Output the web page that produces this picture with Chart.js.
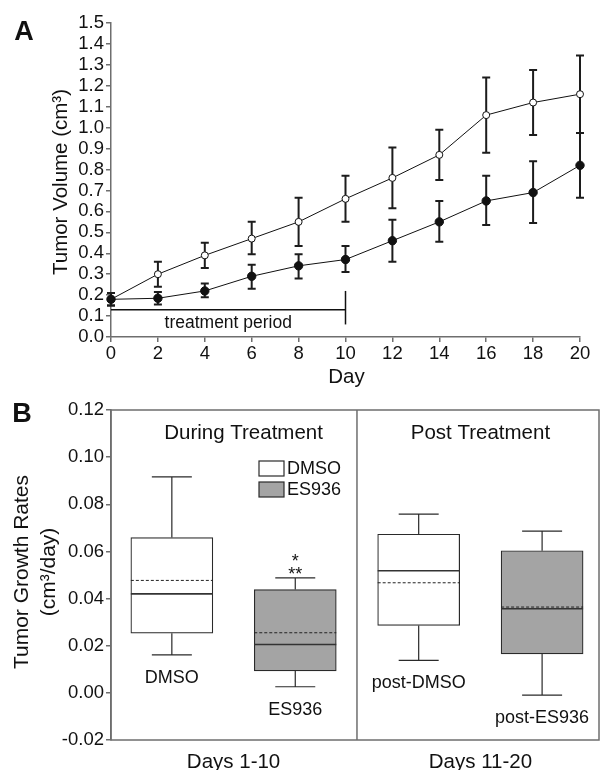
<!DOCTYPE html>
<html>
<head>
<meta charset="utf-8">
<script src="https://cdn.jsdelivr.net/npm/chart.js@4.4.1/dist/chart.umd.min.js"></script>
<style>
  body { margin:0; background:#fff; width:600px; height:770px; position:relative; overflow:hidden; }
  canvas { position:absolute; left:0; }
  #vol-canvas { top:0; }
  #rate-canvas { top:385px; }
</style>
</head>
<body>
<canvas id="vol-canvas" width="600" height="400"></canvas>
<canvas id="rate-canvas" width="600" height="385"></canvas>
<script>
// panel A: tumour volume over time
const days = [0, 2, 4, 6, 8, 10, 12, 14, 16, 18, 20];
const dmsoVol = [0.18, 0.30, 0.39, 0.47, 0.55, 0.66, 0.76, 0.87, 1.06, 1.12, 1.16];
const dmsoLo  = [0.15, 0.24, 0.33, 0.395, 0.435, 0.55, 0.615, 0.75, 0.88, 0.965, 0.975];
const dmsoHi  = [0.21, 0.36, 0.45, 0.55, 0.665, 0.77, 0.905, 0.99, 1.24, 1.275, 1.345];
const esVol = [0.18, 0.185, 0.22, 0.29, 0.34, 0.37, 0.46, 0.55, 0.65, 0.69, 0.82];
const esLo  = [0.15, 0.155, 0.19, 0.23, 0.28, 0.31, 0.36, 0.455, 0.535, 0.545, 0.665];
const esHi  = [0.21, 0.215, 0.255, 0.345, 0.395, 0.435, 0.56, 0.65, 0.77, 0.84, 0.975];
const treatDays = [0, 10];
const treatLevel = 0.13;
const treatTick = [0.06, 0.22];
const dayTicks = [0, 2, 4, 6, 8, 10, 12, 14, 16, 18, 20];
const dayTickLabels = ['0','2','4','6','8','10','12','14','16','18','20'];
const volTicks = [0, 0.1, 0.2, 0.3, 0.4, 0.5, 0.6, 0.7, 0.8, 0.9, 1.0, 1.1, 1.2, 1.3, 1.4, 1.5];
const volTickLabels = ['0.0','0.1','0.2','0.3','0.4','0.5','0.6','0.7','0.8','0.9','1.0','1.1','1.2','1.3','1.4','1.5'];

// panel B: growth-rate box plots
const boxNames = ['DMSO', 'ES936', 'post-DMSO', 'post-ES936'];
const whiskLo = [0.0161, 0.0026, 0.0138, -0.0010];
const q1      = [0.0253, 0.0093, 0.0286, 0.0165];
const median  = [0.0420, 0.0205, 0.0518, 0.0357];
const mean    = [0.0477, 0.0255, 0.0467, 0.0364];
const q3      = [0.0659, 0.0438, 0.0673, 0.0603];
const whiskHi = [0.0916, 0.0488, 0.0758, 0.0686];
const boxFill = ['#ffffff', '#a4a4a4', '#ffffff', '#a4a4a4'];
const periods = ['During Treatment', 'Post Treatment'];
const dayRanges = ['Days 1-10', 'Days 11-20'];
const legendNames = ['DMSO', 'ES936'];
const rateTicks = [-0.02, 0, 0.02, 0.04, 0.06, 0.08, 0.10, 0.12];
const rateTickLabels = ['-0.02','0.00','0.02','0.04','0.06','0.08','0.10','0.12'];

const FONT = "'Liberation Sans', Arial, sans-serif";
const AXIS = '#6e6e6e', INK = '#111';
const TICK_SIZE = 18.5;
Chart.defaults.font.family = FONT;
Chart.defaults.color = INK;

const pts = (xs, ys) => xs.map((x, i) => ({x, y: ys[i]}));

const volExtras = {
  id: 'volExtras',
  beforeDatasetsDraw(chart) {
    const {ctx, scales:{x, y}} = chart;
    ctx.save(); ctx.strokeStyle = '#1c1c1c'; ctx.lineWidth = 2;
    [[dmsoLo, dmsoHi], [esLo, esHi]].forEach(([lo, hi]) => {
      days.forEach((d, i) => {
        const px = x.getPixelForValue(d), yl = y.getPixelForValue(lo[i]), yh = y.getPixelForValue(hi[i]);
        ctx.beginPath();
        ctx.moveTo(px, yl); ctx.lineTo(px, yh);
        ctx.moveTo(px-4, yl); ctx.lineTo(px+4, yl);
        ctx.moveTo(px-4, yh); ctx.lineTo(px+4, yh);
        ctx.stroke();
      });
    });
    ctx.restore();
  },
  afterDraw(chart) {
    const {ctx, scales:{x, y}, chartArea:ca} = chart;
    ctx.save(); ctx.fillStyle = INK; ctx.textAlign = 'center'; ctx.textBaseline = 'middle';
    ctx.font = '17.5px ' + FONT;
    ctx.fillText('treatment period', x.getPixelForValue(5), y.getPixelForValue(0.065));
    ctx.font = '20.5px ' + FONT;
    ctx.fillText('Day', (ca.left+ca.right)/2 + 1, 377);
    ctx.save(); ctx.translate(61, 182); ctx.rotate(-Math.PI/2);
    ctx.fillText('Tumor Volume (cm³)', 0, 0); ctx.restore();
    ctx.font = 'bold 27px ' + FONT;
    ctx.fillText('A', 24, 33);
    ctx.restore();
  }
};

new Chart(document.getElementById('vol-canvas'), {
  type: 'line',
  data: { datasets: [
    { label:'ES936', data: pts(days, esVol), borderColor:INK, borderWidth:1, pointRadius:4.2,
      pointBackgroundColor:INK, pointBorderColor:INK, pointBorderWidth:1, order:0, clip:false },
    { label:'DMSO', data: pts(days, dmsoVol), borderColor:INK, borderWidth:1, pointRadius:3.5,
      pointBackgroundColor:'#fff', pointBorderColor:INK, pointBorderWidth:1, order:1, clip:false },
    { label:'treatment', data: treatDays.map(d => ({x:d, y:treatLevel})), borderColor:INK, borderWidth:1.5, pointRadius:0, order:2 },
    { label:'treatment end', data: treatTick.map(v => ({x:treatDays[1], y:v})), borderColor:INK, borderWidth:1.5, pointRadius:0, order:2 }
  ]},
  options: {
    responsive:false, animation:false,
    layout:{ padding:{ top:23, right:20, left:0, bottom:15 } },
    plugins:{ legend:{display:false}, tooltip:{enabled:false} },
    scales:{
      x:{ type:'linear', min:0, max:20,
        afterBuildTicks: s => { s.ticks = dayTicks.map(v => ({value:v})); },
        afterFit: s => { s.height = 48; },
        ticks:{ callback:(v, i) => dayTickLabels[i], font:{size:TICK_SIZE}, padding:1, maxRotation:0, autoSkip:false, color:INK },
        grid:{ drawOnChartArea:false, tickLength:5, color:AXIS, lineWidth:1.5 },
        border:{ color:AXIS, width:1.5 } },
      y:{ min:0, max:1.5,
        afterBuildTicks: s => { s.ticks = volTicks.map(v => ({value:v})); },
        afterFit: s => { s.width = 111; },
        ticks:{ callback:(v, i) => volTickLabels[i], font:{size:TICK_SIZE}, padding:2, autoSkip:false, color:INK },
        grid:{ drawOnChartArea:false, tickLength:5, color:AXIS, lineWidth:1.5 },
        border:{ color:AXIS, width:1.5 } }
    }
  },
  plugins:[volExtras]
});

const boxExtras = {
  id: 'boxExtras',
  afterDatasetsDraw(chart) {
    const {ctx, scales:{x, y}, chartArea:ca} = chart;
    ctx.save();
    // frame and divider
    ctx.strokeStyle = AXIS; ctx.lineWidth = 1.5;
    ctx.strokeRect(ca.left, ca.top, ca.right-ca.left, ca.bottom-ca.top);
    const mid = x.getPixelForValue(1.5);
    ctx.beginPath(); ctx.moveTo(mid, ca.top); ctx.lineTo(mid, ca.bottom); ctx.stroke();
    // whiskers, medians, means
    boxNames.forEach((n, i) => {
      const cx = x.getPixelForValue(i), hw = 41, cw = 20;
      const pLo = y.getPixelForValue(whiskLo[i]), pHi = y.getPixelForValue(whiskHi[i]);
      const p1 = y.getPixelForValue(q1[i]), p3 = y.getPixelForValue(q3[i]);
      ctx.strokeStyle = '#2a2a2a'; ctx.lineWidth = 1.2; ctx.setLineDash([]);
      ctx.beginPath();
      ctx.moveTo(cx, p3); ctx.lineTo(cx, pHi); ctx.moveTo(cx-cw, pHi); ctx.lineTo(cx+cw, pHi);
      ctx.moveTo(cx, p1); ctx.lineTo(cx, pLo); ctx.moveTo(cx-cw, pLo); ctx.lineTo(cx+cw, pLo);
      ctx.stroke();
      const pm = y.getPixelForValue(median[i]);
      ctx.lineWidth = 1.6; ctx.strokeStyle = '#333';
      ctx.beginPath(); ctx.moveTo(cx-hw, pm); ctx.lineTo(cx+hw, pm); ctx.stroke();
      const pa = y.getPixelForValue(mean[i]);
      ctx.lineWidth = 1; ctx.strokeStyle = '#222'; ctx.setLineDash([3, 2]);
      ctx.beginPath(); ctx.moveTo(cx-hw, pa); ctx.lineTo(cx+hw, pa); ctx.stroke();
      ctx.setLineDash([]);
      ctx.fillStyle = INK; ctx.font = '18px ' + FONT; ctx.textAlign = 'center'; ctx.textBaseline = 'middle';
      ctx.fillText(n, cx, pLo + 23);
    });
    // significance marks over ES936
    const sx = x.getPixelForValue(1), sy = y.getPixelForValue(whiskHi[1]);
    ctx.textBaseline = 'alphabetic'; ctx.font = '18px ' + FONT;
    ctx.fillText('**', sx, sy + 2);
    ctx.fillText('*', sx, sy - 11);
    // period titles
    ctx.textBaseline = 'middle'; ctx.font = '20.5px ' + FONT;
    ctx.fillText(periods[0], x.getPixelForValue(0.5) + 10, ca.top + 23);
    ctx.fillText(periods[1], x.getPixelForValue(2.5), ca.top + 23);
    ctx.fillText(dayRanges[0], x.getPixelForValue(0.5), ca.bottom + 22);
    ctx.fillText(dayRanges[1], x.getPixelForValue(2.5), ca.bottom + 22);
    // legend
    ctx.textAlign = 'left'; ctx.font = '18px ' + FONT;
    legendNames.forEach((n, i) => {
      const lx = ca.left + 148, ly = ca.top + 51 + i * 21;
      ctx.fillStyle = boxFill[i]; ctx.fillRect(lx, ly, 25, 15);
      ctx.strokeStyle = '#2a2a2a'; ctx.lineWidth = 1.2; ctx.strokeRect(lx, ly, 25, 15);
      ctx.fillStyle = INK; ctx.fillText(n, lx + 28, ly + 8);
    });
    // axis title and panel letter
    ctx.textAlign = 'center'; ctx.font = '21px ' + FONT;
    ctx.save(); ctx.translate(22, 187); ctx.rotate(-Math.PI/2);
    ctx.fillText('Tumor Growth Rates', 0, 0);
    ctx.fillText('(cm³/day)', 0, 27);
    ctx.restore();
    ctx.font = 'bold 27px ' + FONT;
    ctx.fillText('B', 22, 30);
    ctx.restore();
  }
};

new Chart(document.getElementById('rate-canvas'), {
  type: 'bar',
  data: { datasets: [{
    label: 'growth rate',
    data: boxNames.map((n, i) => ({x:i, y:[q1[i], q3[i]]})),
    backgroundColor: boxFill, borderColor:'#2a2a2a', borderWidth:1.2, borderSkipped:false,
    barThickness: 82
  }]},
  options: {
    responsive:false, animation:false,
    layout:{ padding:{ top:25, right:1, left:0, bottom:30 } },
    plugins:{ legend:{display:false}, tooltip:{enabled:false} },
    scales:{
      x:{ type:'linear', display:false, offset:false, min:-0.493, max:3.461 },
      y:{ min:-0.02, max:0.12,
        afterBuildTicks: s => { s.ticks = rateTicks.map(v => ({value:v})); },
        afterFit: s => { s.width = 111; },
        ticks:{ callback:(v, i) => rateTickLabels[i], font:{size:TICK_SIZE}, padding:2, autoSkip:false, color:INK },
        grid:{ drawOnChartArea:false, tickLength:5, color:AXIS, lineWidth:1.5 },
        border:{ color:AXIS, width:1.5 } }
    }
  },
  plugins:[boxExtras]
});
</script>
</body>
</html>
